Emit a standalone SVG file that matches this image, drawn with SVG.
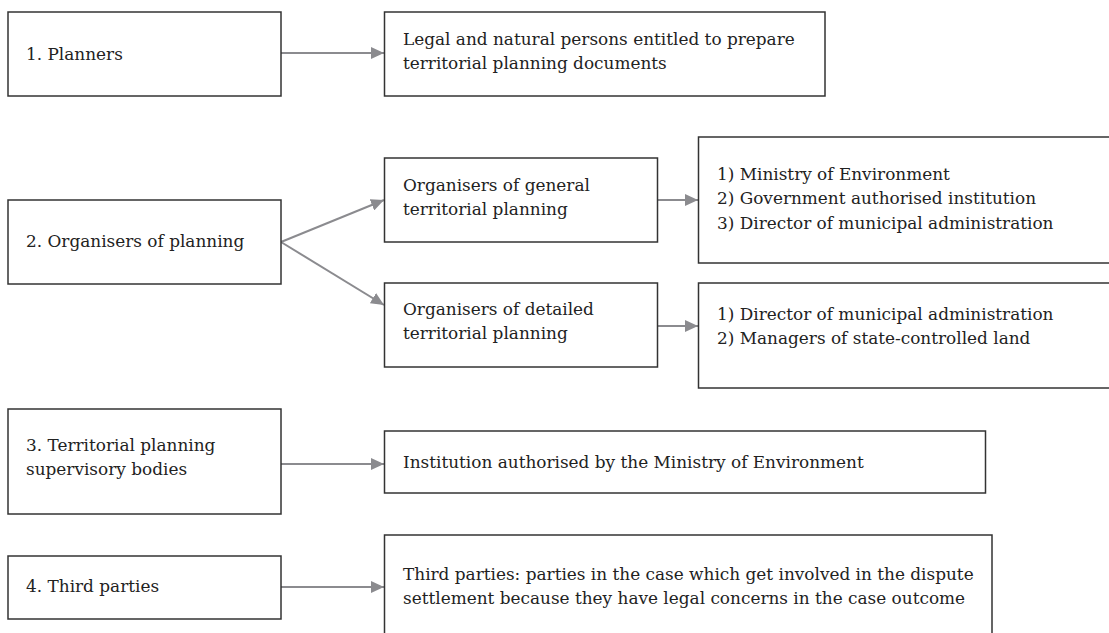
<svg xmlns="http://www.w3.org/2000/svg" width="1109" height="633" viewBox="0 0 1109 633">
<defs>
<style>
.box{fill:#fff;stroke:#333;stroke-width:1.5}
.t{font-family:"DejaVu Serif","Liberation Serif",serif;font-size:16.9px;fill:#222}
.c{stroke:#8b8b8f;stroke-width:2;fill:none}
</style>
<marker id="ah" markerUnits="userSpaceOnUse" markerWidth="14" markerHeight="12" refX="13" refY="6" orient="auto">
<path d="M0,0 L13,6 L0,12 z" fill="#8b8b8f"/>
</marker>
</defs>
<rect width="1109" height="633" fill="#fff"/>
<g id="connectors">
<line class="c" x1="281" y1="53" x2="384" y2="53" marker-end="url(#ah)"/>
<line class="c" x1="281" y1="242" x2="384" y2="200" marker-end="url(#ah)"/>
<line class="c" x1="281" y1="242" x2="384" y2="305" marker-end="url(#ah)"/>
<line class="c" x1="658" y1="200" x2="698" y2="200" marker-end="url(#ah)"/>
<line class="c" x1="658" y1="326" x2="698" y2="326" marker-end="url(#ah)"/>
<line class="c" x1="281" y1="464" x2="384" y2="464" marker-end="url(#ah)"/>
<line class="c" x1="281" y1="587" x2="384" y2="587" marker-end="url(#ah)"/>
</g>
<g id="n1"><rect class="box" x="8" y="12" width="273" height="84"/><text class="t" x="26" y="60">1. Planners</text></g>
<g id="n1r"><rect class="box" x="384.5" y="12" width="440.5" height="84"/><text class="t" x="403" y="45">Legal and natural persons entitled to prepare</text><text class="t" x="403" y="69">territorial planning documents</text></g>
<g id="n2"><rect class="box" x="8" y="200" width="273" height="84"/><text class="t" x="26" y="247">2. Organisers of planning</text></g>
<g id="gen"><rect class="box" x="384.5" y="158" width="273" height="84"/><text class="t" x="403" y="191">Organisers of general</text><text class="t" x="403" y="215">territorial planning</text></g>
<g id="det"><rect class="box" x="384.5" y="283" width="273" height="84"/><text class="t" x="403" y="315">Organisers of detailed</text><text class="t" x="403" y="339">territorial planning</text></g>
<g id="r1"><rect class="box" x="698.5" y="137" width="420" height="126"/><text class="t" x="717" y="180">1) Ministry of Environment</text><text class="t" x="717" y="204">2) Government authorised institution</text><text class="t" x="717" y="229">3) Director of municipal administration</text></g>
<g id="r2"><rect class="box" x="698.5" y="283" width="420" height="105"/><text class="t" x="717" y="320">1) Director of municipal administration</text><text class="t" x="717" y="344">2) Managers of state-controlled land</text></g>
<g id="n3"><rect class="box" x="8" y="409" width="273" height="105"/><text class="t" x="26" y="451">3. Territorial planning</text><text class="t" x="26" y="475">supervisory bodies</text></g>
<g id="inst"><rect class="box" x="384.5" y="431" width="601" height="62"/><text class="t" x="403" y="468">Institution authorised by the Ministry of Environment</text></g>
<g id="n4"><rect class="box" x="8" y="556" width="273" height="63"/><text class="t" x="26" y="592">4. Third parties</text></g>
<g id="tp"><rect class="box" x="384.5" y="535" width="607.5" height="120"/><text class="t" x="403" y="580">Third parties: parties in the case which get involved in the dispute</text><text class="t" x="403" y="604">settlement because they have legal concerns in the case outcome</text></g>
</svg>
